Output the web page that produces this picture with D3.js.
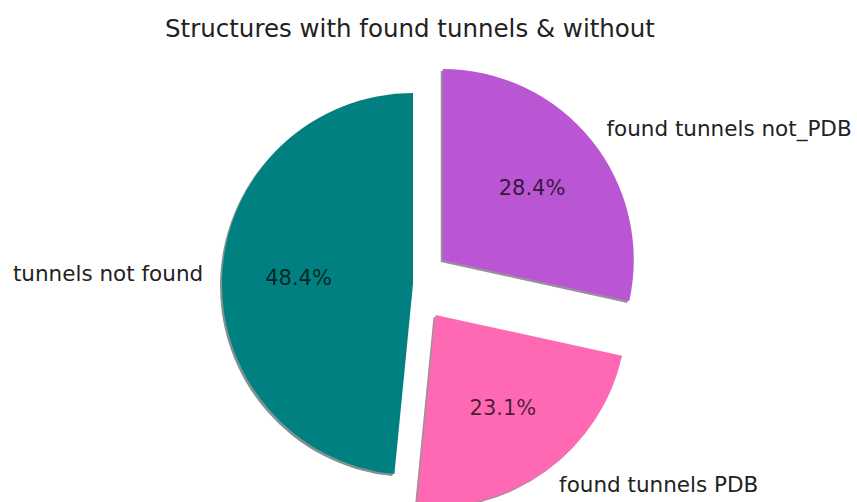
<!DOCTYPE html>
<html><head><meta charset="utf-8">
<script src="https://cdn.jsdelivr.net/npm/d3@7"></script>
<style>body{margin:0;background:#fff;overflow:hidden}</style>
</head><body>
<svg id="chart" width="857" height="502"></svg>
<script>
const categories = ["tunnels not found", "found tunnels PDB", "found tunnels not_PDB"];
const values = [48.4, 23.1, 28.4];
const explode = [0, 0.2, 0.2];
const colors = ["#008080", "#ff69b4", "#ba55d3"];
const title = "Structures with found tunnels & without";

const W = 857, H = 502;
const cx = 413, cy = 284, r = 191;
const font = "'DejaVu Sans', sans-serif";

const svg = d3.select("#chart");
svg.append("rect").attr("width", W).attr("height", H).attr("fill", "#fff");

const total = d3.sum(values);
const pie = d3.pie().sort(null).startAngle(0).endAngle(-2 * Math.PI).value(d => d);
const arcs = pie(values);
const arc = d3.arc().innerRadius(0).outerRadius(r);
const fmt = d3.format(".1f");

function mid(d) { return (d.startAngle + d.endAngle) / 2; }
function dir(a) { return [Math.sin(a), -Math.cos(a)]; }

const g = svg.append("g").attr("transform", `translate(${cx},${cy})`);

// shadows
g.selectAll("path.shadow").data(arcs).enter().append("path")
  .attr("class", "shadow")
  .attr("d", arc)
  .attr("transform", (d, i) => {
    const [ux, uy] = dir(mid(d));
    return `translate(${ux * explode[i] * r - 2},${uy * explode[i] * r + 2})`;
  })
  .attr("fill", (d, i) => { const c = d3.rgb(colors[i]); return d3.rgb(c.r * 0.3, c.g * 0.3, c.b * 0.3); })
  .attr("fill-opacity", 0.5);

// wedges
g.selectAll("path.wedge").data(arcs).enter().append("path")
  .attr("class", "wedge")
  .attr("d", arc)
  .attr("transform", (d, i) => {
    const [ux, uy] = dir(mid(d));
    return `translate(${ux * explode[i] * r},${uy * explode[i] * r})`;
  })
  .attr("fill", (d, i) => colors[i]);

// outer labels
g.selectAll("text.lbl").data(arcs).enter().append("text")
  .attr("class", "lbl")
  .each(function (d, i) {
    const [ux, uy] = dir(mid(d));
    const k = (explode[i] + 1.1) * r;
    d3.select(this)
      .attr("x", ux * k).attr("y", uy * k)
      .attr("text-anchor", ux < 0 ? "end" : "start");
  })
  .attr("dominant-baseline", "central")
  .attr("font-family", font).attr("font-size", 21.5)
  .attr("fill", "#222")
  .text((d, i) => categories[i]);

// percentage labels
g.selectAll("text.pct").data(arcs).enter().append("text")
  .attr("class", "pct")
  .each(function (d, i) {
    const [ux, uy] = dir(mid(d));
    const k = (explode[i] + 0.6) * r;
    d3.select(this).attr("x", ux * k).attr("y", uy * k);
  })
  .attr("text-anchor", "middle")
  .attr("dominant-baseline", "central")
  .attr("font-family", font).attr("font-size", 21)
  .attr("fill", "#000").attr("fill-opacity", 0.72)
  .text((d, i) => fmt(values[i] / total * 100) + "%");

// title
svg.append("text")
  .attr("x", 410).attr("y", 37)
  .attr("text-anchor", "middle")
  .attr("font-family", font).attr("font-size", 24.5)
  .attr("fill", "#222")
  .text(title);
</script>
</body></html>
